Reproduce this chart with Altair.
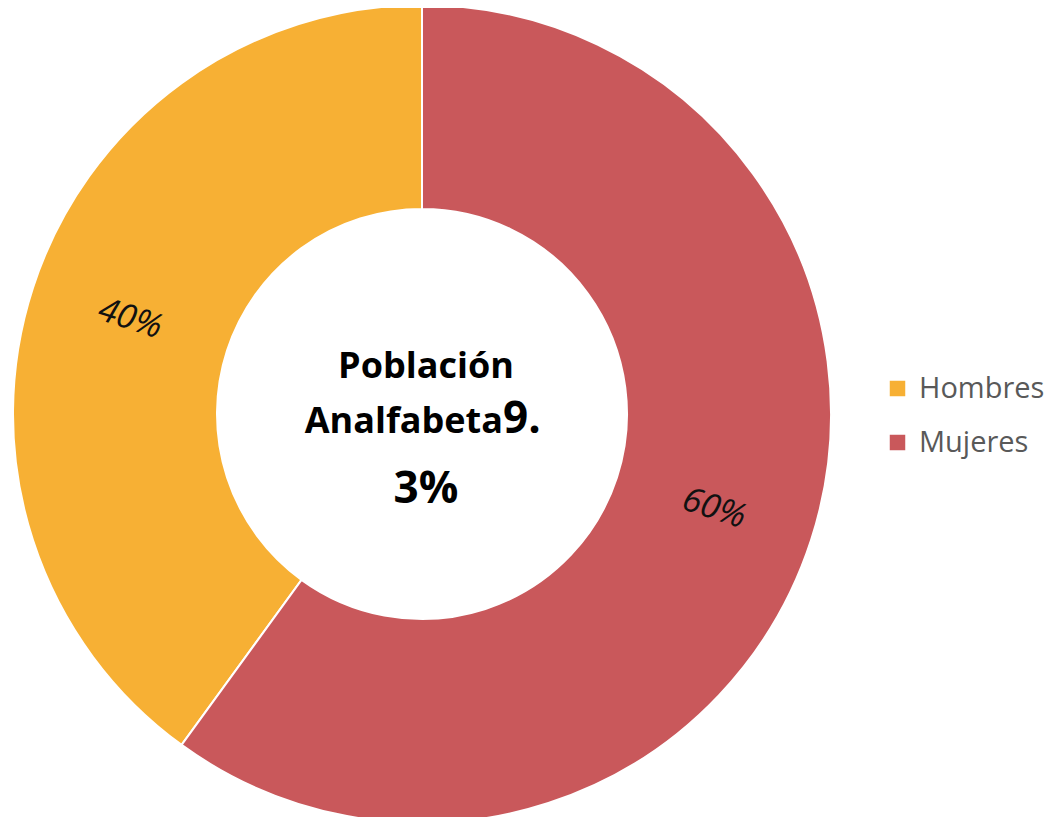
import altair as alt
import pandas as pd

categories = ["Hombres", "Mujeres"]
values = [40, 60]
colors = ["#F7B034", "#C9585B"]

center_line1 = "Población"
center_line2a = "Analfabeta"
center_line2b = "9."
center_line3 = "3%"

df = pd.DataFrame({"category": categories, "value": values})

CX, CY = 414, 406
R_OUT, R_IN = 409, 205
R_LAB = 307

base = alt.Chart(df).encode(
    theta=alt.Theta("value:Q", stack=True),
    order=alt.Order("category:N", sort="descending"),
)

arcs = base.mark_arc(
    outerRadius=R_OUT, innerRadius=R_IN, stroke="white", strokeWidth=2
).encode(
    x=alt.value(CX),
    y=alt.value(CY),
    color=alt.Color(
        "category:N",
        scale=alt.Scale(domain=categories, range=colors),
        legend=alt.Legend(
            title=None,
            orient="none",
            legendX=875,
            legendY=366,
            padding=0,
            symbolType="square",
            symbolSize=240,
            symbolStrokeWidth=0,
            labelFontSize=29,
            labelFont="Open Sans",
            labelColor="#595959",
            labelOffset=7,
            rowPadding=24,
        ),
    ),
)

labels = base.transform_calculate(
    lab="format(datum.value, 'd') + '%'"
).mark_text(
    radius=R_LAB, angle=18, fontSize=34, fontStyle="italic", font="Open Sans",
    color="#111111", align="center", baseline="middle"
).encode(
    x=alt.value(CX),
    y=alt.value(CY),
    text="lab:N",
)

t1 = alt.Chart(pd.DataFrame({"t": [center_line1]})).mark_text(
    font="Open Sans", fontWeight="bold", fontSize=36, align="center", baseline="alphabetic", color="#000000"
).encode(x=alt.value(426 - 8), y=alt.value(378 - 8), text="t:N")

t2a = alt.Chart(pd.DataFrame({"t": [center_line2a]})).mark_text(
    font="Open Sans", fontWeight="bold", fontSize=36, align="right", baseline="alphabetic", color="#000000"
).encode(x=alt.value(503 - 8), y=alt.value(433 - 8), text="t:N")

t2b = alt.Chart(pd.DataFrame({"t": [center_line2b]})).mark_text(
    font="Open Sans", fontWeight="bold", fontSize=44, align="left", baseline="alphabetic", color="#000000"
).encode(x=alt.value(503 - 8), y=alt.value(433 - 8), text="t:N")

t3 = alt.Chart(pd.DataFrame({"t": [center_line3]})).mark_text(
    font="Open Sans", fontWeight="bold", fontSize=44, align="center", baseline="alphabetic", color="#000000"
).encode(x=alt.value(426 - 8), y=alt.value(503 - 8), text="t:N")

chart = alt.layer(arcs, labels, t1, t2a, t2b, t3).properties(
    width=1040, height=809, padding=0,
    autosize=alt.AutoSizeParams(type="none"),
).configure(background="white").configure_view(stroke=None, strokeWidth=0)

chart.save("out.html", embed_options={"renderer": "svg", "actions": False})
